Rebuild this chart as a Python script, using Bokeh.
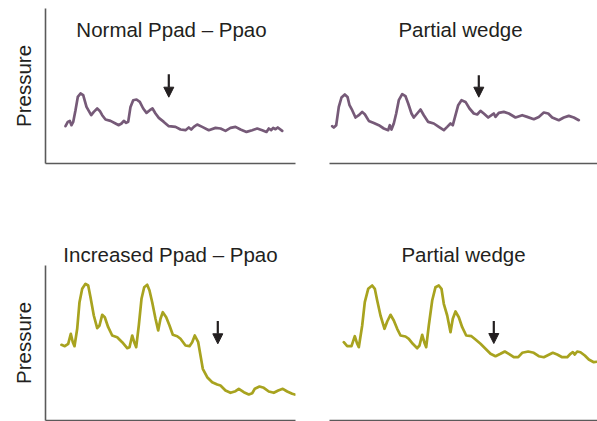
from bokeh.plotting import figure
from bokeh.layouts import column, row
from bokeh.models import Label, Arrow, NormalHead, ColumnDataSource, FixedTicker, Title
from bokeh.embed import file_html
from bokeh.resources import INLINE

# ---- data -------------------------------------------------------------
titles = ["Normal Ppad \u2013 Ppao", "Partial wedge", "Increased Ppad \u2013 Ppao", "Partial wedge"]
y_label = "Pressure"

tl_time = [20, 22.3, 24.3, 26, 27.7, 30, 32.3, 35, 37.7, 41, 45.7, 48.3, 51.7, 54.3, 56.7, 60, 65, 70,
           73.3, 76, 78.3, 80.7, 82.7, 85, 87.7, 91, 94.3, 97.7, 101, 104.3, 107, 110, 113.3, 118.3,
           123.3, 130, 135, 140, 143.3, 145.7, 148.3, 151.7, 156.7, 163.3, 170, 175, 180, 185, 190,
           195, 201, 206.7, 211.7, 216.7, 221, 223.3, 225.7, 227.7, 230, 232.3, 236.7]
tl_pressure = [37.3, 41.6, 42.6, 38.3, 41.6, 53.3, 66.6, 70, 68.3, 56.6, 48.3, 51.6, 55, 52.6, 48.3, 44,
               42.6, 40, 38.3, 40, 42.6, 40.6, 41.6, 56.6, 63.3, 64, 61.6, 55, 50.6, 53.3, 55, 50, 45.6,
               41.6, 37.3, 36.6, 34, 33.3, 36, 34, 36.6, 39, 36.6, 33.3, 35.6, 35, 32.6, 35.6, 36.6, 34,
               31.6, 33.3, 35, 33.3, 31.6, 35, 33.3, 35.6, 34.3, 36, 32.6]

tr_time = [2.7, 4.3, 6.7, 9.3, 12, 15.3, 18, 20, 22.7, 26, 29.3, 32.7, 35.3, 39.3, 44.3, 49.3, 54.3,
           58.7, 60.3, 62, 64.3, 66.7, 69.3, 72.7, 76, 78.7, 82, 84.3, 87.7, 91, 94.3, 98.7, 104.3,
           109.3, 114.3, 117.7, 121, 123.3, 126, 128.7, 132, 136, 140, 144.3, 147.7, 151, 154.3,
           158.7, 162, 164.3, 166, 169.3, 174.3, 179.3, 186, 192.7, 197.7, 204.3, 209.3, 214.3,
           218.7, 222.7, 229.3, 234.3, 239.3, 244.3, 249.3]
tr_pressure = [37.3, 36, 38.3, 56.6, 66, 69, 66.6, 58.3, 53.3, 46, 48.3, 51.6, 49.3, 42.6, 40.6, 38.3,
               35, 33.3, 38.3, 34, 40, 50, 63.3, 69.3, 67.3, 60, 50, 46, 50, 54, 48.3, 41.6, 40, 36.6,
               33.3, 36.6, 40, 38.3, 48.3, 58.3, 63.3, 61.6, 55, 50, 49, 52.6, 50, 46, 48.3, 50, 46.6,
               50.6, 51.6, 50, 46, 48.3, 46.6, 44.3, 46.6, 51, 50, 46, 43.3, 46, 47.6, 46, 43.3]

bl_time = [16, 19.3, 22.7, 25.3, 27.3, 29, 31.7, 34, 36.7, 40, 42.7, 45, 48.3, 51.7, 54, 56.7, 59.3,
           62.7, 66.7, 71.7, 76.7, 81.7, 84, 86.7, 88.7, 90.7, 93.3, 96, 98.7, 101.7, 104, 106.7, 110,
           112.7, 115, 117.3, 120.7, 124, 127.3, 131.7, 135, 140, 144, 146.7, 149.3, 152.7, 155,
           157.3, 161.7, 166.7, 171.7, 175, 180, 185, 190, 193.3, 198.3, 203.3, 206.7, 209.3, 214,
           218.3, 223.3, 228.3, 232.7, 237.3, 241.7, 246.7, 249.3]
bl_pressure = [75.7, 74.3, 76.7, 86.7, 78.3, 74.3, 91.7, 118.3, 131.7, 136.7, 135, 123.3, 105, 92.3, 95,
               105.7, 103.3, 93.3, 85, 83.3, 78.3, 72.3, 73.3, 85, 78.3, 73.3, 95, 121.7, 133.3, 135.7,
               130, 118.3, 101.7, 90, 101.7, 108.3, 103.3, 95, 85.7, 84.3, 81.7, 75, 74.3, 78.3, 85,
               78.3, 65, 51.7, 43.3, 38.3, 36, 35, 30, 27.7, 29.3, 31.7, 28.3, 26, 27.3, 31.7, 34, 32.7,
               29, 27.7, 30, 31.7, 29, 26.7, 26]

br_time = [14.3, 17.7, 22, 25.3, 27.7, 29.3, 32.7, 35.3, 38.7, 42.7, 45.3, 47.7, 51, 55, 57.7, 61, 64.3,
           67.7, 71, 76, 79.3, 83.3, 87.7, 90, 92.7, 95.3, 96.7, 99.3, 102.7, 106, 109.3, 112, 114.3,
           117.7, 121, 123.3, 126, 129.3, 132.7, 136.7, 142, 146, 151, 156, 161, 166, 171, 175.3,
           179.3, 184.3, 188.7, 192.7, 198.7, 204.3, 209.3, 214.3, 219.3, 223.3, 227.7, 232.7,
           237.7, 241, 243.3, 245.3, 247.7, 251, 255.3, 259.3, 264.3, 269.3]
br_pressure = [78.3, 74.3, 74.3, 84.3, 76.7, 73.3, 95, 118.3, 131.7, 135, 131.7, 120, 105, 91.7, 99,
               105.7, 100, 91.7, 85, 84, 81.7, 76.7, 72.3, 75, 85.7, 76.7, 73.3, 95, 120, 133.3, 135,
               131.7, 116.7, 105, 88.3, 101.7, 109, 103.3, 93.3, 85, 84.3, 81, 76.7, 71.7, 66.7, 64.3,
               66.7, 69, 66.7, 63.3, 63.3, 67.7, 69, 67.7, 64.3, 63.3, 65.7, 67.7, 66, 63.3, 63.3,
               66.7, 68.3, 66, 69, 68.3, 65, 61, 58.3, 59]

arrow_x = [123.3, 149.3, 172.3, 164.3]
arrow_top = [89.3, 88.3, 99.5, 99.5]
arrow_tip = [66.3, 66.3, 76.7, 77]

# ---- styling ----------------------------------------------------------
FONT = "Liberation Sans"
TXT = "#231f20"
AXIS = "#5a5a5a"
PURPLE = "#765a78"
OLIVE = "#a8a31f"
FS = "20.5px"

series = [(tl_time, tl_pressure, PURPLE), (tr_time, tr_pressure, PURPLE),
          (bl_time, bl_pressure, OLIVE), (br_time, br_pressure, OLIVE)]


def make_panel(i):
    left = i % 2 == 0
    top = i < 2
    w = 315 if left else 282
    h = 210 if top else 211
    xr = (0, 250) if left else (0, 268)
    yr = (0, 155)
    p = figure(width=w, height=h, x_range=xr, y_range=yr,
               output_backend="svg", toolbar_location=None,
               y_axis_location="left" if left else None,
               min_border_left=45 if left else 14,
               min_border_right=20 if left else 0,
               min_border_top=8 if top else 55,
               min_border_bottom=47 if top else 1)
    p.outline_line_color = None
    p.grid.visible = False
    p.background_fill_color = "white"
    p.border_fill_color = "white"
    axes = list(p.xaxis) + (list(p.yaxis) if left else [])
    for ax in axes:
        ax.ticker = FixedTicker(ticks=[])
        ax.major_tick_line_color = None
        ax.minor_tick_line_color = None
        ax.major_tick_out = 0
        ax.major_tick_in = 0
        ax.major_label_standoff = 0
        ax.major_label_text_font_size = "0px"
        ax.axis_line_color = AXIS
        ax.axis_line_width = 1.6
    if left:
        ya = p.yaxis[0]
        ya.axis_label = y_label
        ya.axis_label_text_font = FONT
        ya.axis_label_text_font_size = FS
        ya.axis_label_text_font_style = "normal"
        ya.axis_label_text_color = TXT
        ya.axis_label_standoff = 11

    t, pr, col = series[i]
    p.line(t, pr, line_width=2.7, line_color=col, line_join="round", line_cap="round")

    src = ColumnDataSource(dict(x0=[arrow_x[i]], y0=[arrow_top[i]], x1=[arrow_x[i]], y1=[arrow_tip[i]]))
    p.add_layout(Arrow(end=NormalHead(size=10, fill_color=TXT, line_color=TXT, line_width=1),
                       x_start="x0", y_start="y0", x_end="x1", y_end="y1",
                       line_width=2.2, line_color=TXT, source=src))

    if top:
        title_x = 126 if left else 131
        p.add_layout(Label(x=title_x, y=134, text=titles[i], text_align="center",
                           text_baseline="alphabetic", text_font=FONT, text_font_size=FS,
                           text_color=TXT))
    else:
        p.add_layout(Title(text=titles[i], align="center", standoff=0,
                           text_font=FONT, text_font_size=FS, text_font_style="normal",
                           text_color=TXT), "above")
    return p


panels = [make_panel(i) for i in range(4)]
layout = column(row(panels[0], panels[1]), row(panels[2], panels[3]))

open("out.html", "w").write(file_html(layout, INLINE))
